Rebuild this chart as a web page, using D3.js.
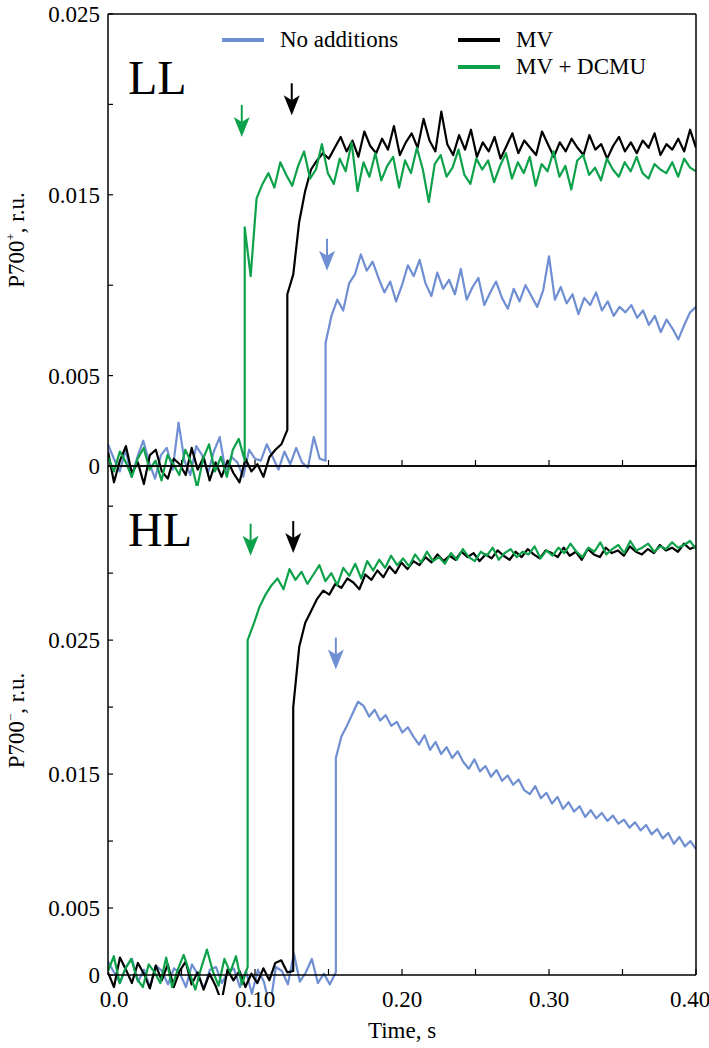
<!DOCTYPE html>
<html><head><meta charset="utf-8">
<script src="https://cdn.jsdelivr.net/npm/d3@7"></script>
<style>body{margin:0;background:#fff}</style>
</head><body>
<script>
// values in units of 0.001 r.u.; "pre" spans 0..jump, "post" spans jump..0.4
var BLUE = "#6f8fd2", BLACK = "#000", GREEN = "#0da24a";

var llGreenJump = 0.093;
var llGreenPre = [0.5,-0.3,0.8,0.2,-0.6,0.4,1.0,-0.2,0.3,-0.8,0.6,0.1,-0.5,0.9,0.2,-1.2,0.4,1.2,-0.3,0.5,-0.6,0.9,1.5,0.3];
var llGreenPost = [13.2,10.5,14.8,15.6,16.2,15.4,16.8,16.1,15.5,16.6,17.4,15.9,16.4,17.8,16.2,15.6,17.0,16.3,17.9,15.2,16.8,16.0,17.3,15.8,16.6,17.1,15.4,16.9,16.2,17.6,16.4,14.6,16.7,17.2,16.0,16.5,17.5,16.1,15.6,17.0,16.4,16.9,15.7,16.6,17.3,15.9,16.8,16.2,17.1,15.5,16.7,16.3,17.4,16.0,16.6,15.3,16.9,17.2,16.1,16.5,15.8,17.0,16.4,16.0,16.8,16.3,17.1,16.2,15.9,16.7,16.4,16.2,16.8,16.0,17.0,16.5,16.3];

var llBlackJump = 0.122;
var llBlackPre = [0.8,-0.9,0.3,1.1,-0.4,0.2,-1.0,0.6,0.9,-0.3,-0.7,0.4,0.1,-0.5,1.0,-0.2,0.5,-0.8,0.2,-0.6,0.3,-0.4,-0.9,0.4,-0.3,0.1,-0.6,0.5,0.9,1.2,2.0];
var llBlackPost = [9.5,10.6,13.5,15.2,16.4,16.9,17.3,17.0,17.6,18.2,17.4,18.0,17.1,18.5,17.7,17.3,18.1,17.5,18.8,17.2,17.9,18.4,17.6,19.2,18.0,17.4,19.6,17.8,17.2,18.3,17.5,18.6,17.1,17.9,17.4,18.2,17.0,17.7,18.4,17.3,18.0,17.6,17.2,18.5,17.8,17.1,17.9,17.4,18.1,17.6,17.2,18.3,17.5,17.8,17.0,17.7,18.2,17.4,17.9,17.3,18.0,17.6,18.4,17.2,17.8,17.5,18.1,17.4,18.6,17.6];

var llBlueJump = 0.148;
var llBluePre = [1.2,0.4,-0.3,0.9,-0.6,0.5,1.4,0.2,-0.7,0.6,1.0,-0.2,2.4,0.3,-0.5,1.1,0.6,-0.4,0.8,1.6,-0.3,0.5,0.2,-0.6,0.9,0.4,0.3,1.2,0.5,-0.2,0.8,0.1,1.0,0.2,-0.1,1.6,0.4,0.3];
var llBluePost = [6.8,8.3,9.2,8.6,10.1,10.6,11.7,10.8,11.3,10.4,9.6,10.2,9.1,10.0,11.1,10.5,11.4,10.1,9.4,10.7,9.8,10.3,9.5,10.9,9.2,9.9,10.4,8.9,9.6,10.2,9.3,8.7,9.8,9.1,10.0,9.4,8.8,9.7,11.6,9.2,9.9,9.0,9.5,8.4,9.3,8.9,9.6,8.6,9.1,8.3,8.8,8.5,8.9,8.2,8.6,7.8,8.3,7.4,8.1,7.6,7.0,7.8,8.5,8.8];

var hlGreenJump = 0.095;
var hlGreenPre = [0.3,1.4,-0.6,0.5,1.2,-0.3,-0.9,0.8,0.2,-0.6,1.3,-0.9,0.4,1.5,0.2,-1.1,0.5,1.9,0.3,-0.8,1.2,0.2,1.4,-0.7,0.6];
var hlGreenPost = [25.0,26.2,27.5,28.4,29.1,29.6,28.8,30.3,29.5,30.1,29.2,29.9,30.6,29.4,30.0,29.1,30.4,29.8,30.7,29.6,30.9,30.2,31.0,30.4,31.3,30.6,31.1,30.5,31.4,30.8,31.6,30.9,31.2,30.7,31.5,31.0,31.8,31.2,30.9,31.6,31.3,31.9,31.0,31.5,31.8,31.2,31.6,31.4,32.0,31.1,31.7,31.3,31.9,31.5,32.2,31.6,31.2,31.9,31.6,32.3,31.4,31.8,32.1,31.5,32.4,31.7,31.9,32.2,31.6,32.0,31.8,32.3,31.9,32.1,32.4,31.8];

var hlBlackJump = 0.126;
var hlBlackPre = [0.2,-0.9,1.3,0.4,-0.6,0.9,0.1,-1.0,0.7,-0.4,0.8,-0.9,0.3,1.0,-0.7,0.2,-1.1,0.1,-0.8,-2.0,0.4,-0.4,0.3,-0.9,0.1,-0.6,0.5,-0.4,0.9,1.1,0.2,0.3];
var hlBlackPost = [20.0,24.5,26.3,27.2,28.1,28.7,28.4,29.2,28.9,29.6,29.3,28.8,29.9,29.5,30.2,29.7,30.5,30.0,30.8,30.3,30.9,30.6,31.2,30.8,31.4,30.9,31.3,31.0,31.6,31.2,31.5,30.9,31.4,31.1,31.7,31.3,31.0,31.6,31.2,31.8,31.4,31.1,31.7,31.5,31.2,31.9,31.3,31.6,31.0,31.8,31.4,31.2,31.9,31.5,31.7,31.3,32.0,31.6,31.4,31.8,31.5,32.1,31.7,31.9,31.6,32.2,31.8,32.0];

var hlBluePre = [1.0,0.2,-0.6,0.6,1.2,-0.5,0.4,-0.9,0.7,0.3,-0.7,0.5,0.1,-0.9,0.8,0.0,-1.0,0.4,0.6,-0.6,0.2,0.5,-0.9,0.3,-1.4,0.4,-0.5,-2.4,0.6,0.3,-0.7,1.6,-0.5,0.2,1.2,-0.6,0.1,-0.7,0.2];
var hlBlueJump = 0.155;
var hlBluePost = [16.2,17.8,18.6,19.5,20.4,20.1,19.3,19.8,19.0,19.4,18.6,18.9,18.1,18.5,17.8,17.2,17.9,16.8,17.4,16.5,17.0,16.2,16.7,15.9,15.4,16.1,15.2,15.6,14.8,15.3,14.5,14.9,14.2,14.6,13.8,13.5,14.1,13.2,13.6,12.8,13.3,12.4,12.9,12.2,12.6,11.8,12.3,11.7,12.1,11.5,11.9,11.3,11.6,11.0,11.4,10.8,11.2,10.5,10.9,10.2,10.6,9.8,10.3,9.6,10.0,9.4];

var xTicks = [0, 0.1, 0.2, 0.3, 0.4];
var xTickLabels = ["0.0", "0.10", "0.20", "0.30", "0.40"];
var yTicks = [0, 0.005, 0.015, 0.025];
var yMinor = [0.01, 0.02, 0.03, 0.035];
var legendNames = ["No additions", "MV", "MV + DCMU"];

// arrows [time, tipValue, colour]
var llArrows = [[0.091, 0.0182, GREEN], [0.125, 0.0194, BLACK], [0.149, 0.0108, BLUE]];
var hlArrows = [[0.097, 0.0313, GREEN], [0.126, 0.0315, BLACK], [0.155, 0.0228, BLUE]];

function series(pre, jump, post) {
  var a = pre.map(function(v, i) { return [i * jump / (pre.length - 1), v / 1000]; });
  var b = post.map(function(v, i) { return [jump + i * (0.4 - jump) / (post.length - 1), v / 1000]; });
  return a.concat(b);
}

var W = 709, H = 1048, left = 108, right = 696;
var svg = d3.select("body").append("svg").attr("width", W).attr("height", H)
  .attr("font-family", "'Liberation Serif', 'DejaVu Serif', serif");
var x = d3.scaleLinear().domain([0, 0.4]).range([left, right]);

function panel(top, bottom, ymax, lines, arrows, name, showX) {
  var y = d3.scaleLinear().domain([0, ymax]).range([bottom, top]);
  var g = svg.append("g");
  var id = "clip" + name;
  svg.append("clipPath").attr("id", id).append("rect")
    .attr("x", left).attr("y", top).attr("width", right - left).attr("height", bottom - top + 20);
  var line = d3.line().x(function(d) { return x(d[0]); }).y(function(d) { return y(d[1]); });
  lines.forEach(function(l) {
    g.append("path").datum(l.data).attr("d", line).attr("fill", "none")
      .attr("stroke", l.color).attr("stroke-width", 2.2).attr("stroke-linejoin", "round")
      .attr("clip-path", "url(#" + id + ")");
  });
  [[left, bottom, right, bottom], [left, top, left, bottom], [right, top, right, bottom], [left, top, right, top]].forEach(function(s) {
    g.append("line").attr("x1", s[0]).attr("y1", s[1]).attr("x2", s[2]).attr("y2", s[3]).attr("stroke", "#000").attr("stroke-width", 1.5);
  });
  yTicks.concat(yMinor).filter(function(t) { return t <= ymax; }).forEach(function(t) {
    g.append("line").attr("x1", left).attr("x2", left + 5).attr("y1", y(t)).attr("y2", y(t)).attr("stroke", "#000").attr("stroke-width", 1.2);
  });
  yTicks.forEach(function(t) {
    g.append("text").attr("x", left - 8).attr("y", y(t)).attr("dy", "0.35em")
      .attr("text-anchor", "end").attr("font-size", 23).text(t === 0 ? "0" : d3.format(".3f")(t));
  });
  d3.range(0.05, 0.401, 0.05).forEach(function(t) {
    g.append("line").attr("x1", x(t)).attr("x2", x(t)).attr("y1", bottom).attr("y2", bottom - 6).attr("stroke", "#000").attr("stroke-width", 1.2);
  });
  if (showX) {
    xTicks.forEach(function(t, i) {
      g.append("text").attr("x", x(t) + (i === 0 ? 6 : 0) - (i === 4 ? 6 : 0)).attr("y", bottom + 32)
        .attr("text-anchor", "middle").attr("font-size", 23).text(xTickLabels[i]);
    });
  }
  arrows.forEach(function(a) {
    var tx = x(a[0]), ty = y(a[1]);
    g.append("line").attr("x1", tx).attr("x2", tx).attr("y1", ty - 32).attr("y2", ty - 10).attr("stroke", a[2]).attr("stroke-width", 2);
    g.append("path").attr("d", "M" + (tx - 8) + "," + (ty - 20) + "L" + tx + "," + ty + "L" + (tx + 8) + "," + (ty - 20) + "L" + tx + "," + (ty - 15) + "Z").attr("fill", a[2]);
  });
  g.append("text").attr("x", left + 20).attr("y", top + 80).attr("font-size", 48).text(name);
  var lab = g.append("text").attr("transform", "translate(24," + ((top + bottom) / 2) + ") rotate(-90)")
    .attr("text-anchor", "middle").attr("font-size", 23);
  lab.append("tspan").text("P700");
  lab.append("tspan").attr("font-size", 13).attr("dy", -9).text(name === "LL" ? "+" : "\u2212");
  lab.append("tspan").attr("dy", 9).text(", r.u.");
  return g;
}

panel(14, 466, 0.025, [
  {color: BLUE, data: series(llBluePre, llBlueJump, llBluePost)},
  {color: BLACK, data: series(llBlackPre, llBlackJump, llBlackPost)},
  {color: GREEN, data: series(llGreenPre, llGreenJump, llGreenPost)}
], llArrows, "LL", false);

panel(466, 975, 0.038, [
  {color: BLUE, data: series(hlBluePre, hlBlueJump, hlBluePost)},
  {color: BLACK, data: series(hlBlackPre, hlBlackJump, hlBlackPost)},
  {color: GREEN, data: series(hlGreenPre, hlGreenJump, hlGreenPost)}
], hlArrows, "HL", true);

// legend
var leg = [[222, 40, BLUE], [458, 40, BLACK], [458, 67, GREEN]];
leg.forEach(function(l, i) {
  svg.append("line").attr("x1", l[0]).attr("x2", l[0] + 42).attr("y1", l[1]).attr("y2", l[1]).attr("stroke", l[2]).attr("stroke-width", 4);
  svg.append("text").attr("x", l[0] + 58).attr("y", l[1] + 7).attr("font-size", 23).text(legendNames[i]);
});

svg.append("text").attr("x", x(0.2)).attr("y", 1038).attr("text-anchor", "middle").attr("font-size", 23).text("Time, s");
</script>
</body></html>
